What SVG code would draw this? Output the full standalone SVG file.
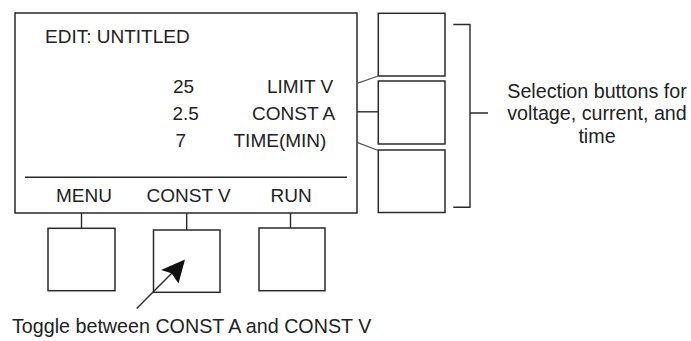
<svg xmlns="http://www.w3.org/2000/svg" width="691" height="341" viewBox="0 0 691 341">
<style>
.box{fill:#fff;stroke:#2a2a2a;stroke-width:1.5}
.ln{fill:none;stroke:#2a2a2a;stroke-width:1.4}
.dg{fill:none;stroke:#555;stroke-width:1.3}
text{font-family:"Liberation Sans",Arial,Helvetica,sans-serif;fill:#222}
.d{font-size:19px}
.n{font-size:19.7px}
</style>
<rect width="691" height="341" fill="#fff"/>
<g id="display">
<rect class="box" x="15" y="13" width="342" height="200"/>
<line class="ln" x1="25" y1="177.3" x2="347" y2="177.3"/>
<text class="d" x="45" y="43">EDIT: UNTITLED</text>
<text class="d" x="173" y="92.5">25</text>
<text class="d" x="267" y="92.5">LIMIT V</text>
<text class="d" x="172.5" y="119.5">2.5</text>
<text class="d" x="252" y="119.5">CONST A</text>
<text class="d" x="175.5" y="147">7</text>
<text class="d" x="233.5" y="147">TIME(MIN)</text>
<text class="d" x="56" y="202">MENU</text>
<text class="d" x="146.5" y="202">CONST V</text>
<text class="d" x="270.5" y="202">RUN</text>
</g>
<g id="btn-menu"><rect class="box" x="48" y="228.3" width="67" height="62.4"/></g>
<g id="btn-constv"><rect class="box" x="153.5" y="230" width="66.5" height="62.3"/></g>
<g id="btn-run"><rect class="box" x="259" y="228" width="66" height="62.7"/></g>
<g id="btn-limitv"><rect class="box" x="378.3" y="13.3" width="66.7" height="62.7"/></g>
<g id="btn-consta"><rect class="box" x="378.3" y="81" width="66.7" height="63"/></g>
<g id="btn-time"><rect class="box" x="378.3" y="150" width="66.7" height="62.5"/></g>
<g id="connectors">
<line class="ln" x1="81.5" y1="213" x2="81.5" y2="228.3"/>
<line class="ln" x1="186.7" y1="213" x2="186.7" y2="230"/>
<line class="ln" x1="290.5" y1="213" x2="290.5" y2="228"/>
<line class="dg" x1="357" y1="83.3" x2="378.3" y2="76"/>
<line class="ln" x1="357" y1="111.8" x2="378.3" y2="111.8"/>
<line class="dg" x1="357" y1="142.3" x2="378.3" y2="150.5"/>
<path class="ln" d="M453.3,24.5 H470 V207.3 H453.3 M470,113 H488"/>
<line class="ln" x1="136.7" y1="308.5" x2="172" y2="273"/>
<polygon points="185,259.5 161,270 171.5,273.3 178.5,283.5" fill="#111"/>
</g>
<g id="labels">
<text class="n" x="597" y="97.5" text-anchor="middle">Selection buttons for</text>
<text class="n" x="597" y="120" text-anchor="middle">voltage, current, and</text>
<text class="n" x="597" y="142.5" text-anchor="middle">time</text>
<text class="n" x="12" y="333">Toggle between CONST A and CONST V</text>
</g>
</svg>
